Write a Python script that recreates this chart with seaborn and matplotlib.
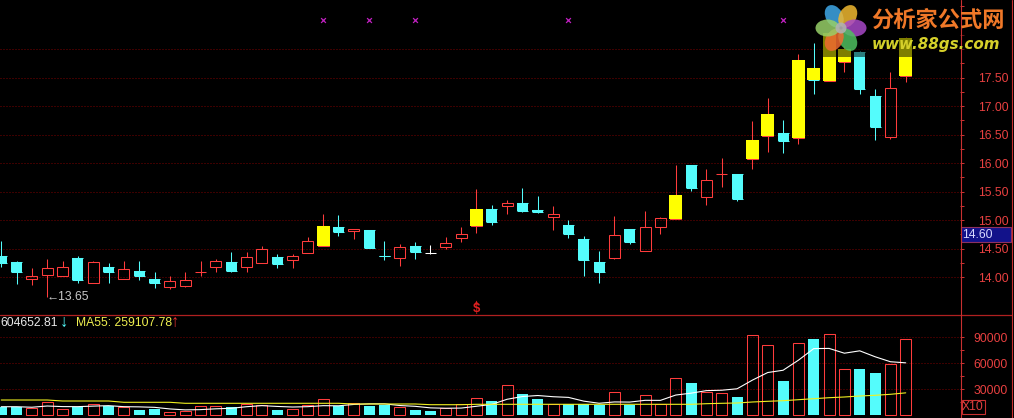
import numpy as np
import pandas as pd
import matplotlib
matplotlib.use("Agg")
import matplotlib.pyplot as plt
import seaborn as sns
from matplotlib.patches import Ellipse, Rectangle, Circle

# ---------------- data ----------------
opens = [14.36, 14.26, 13.96, 14.03, 14.02, 14.33, 13.90, 14.17, 13.97, 14.11,
         13.97, 13.83, 13.85, 14.08, 14.18, 14.26, 14.18, 14.25, 14.35, 14.30,
         14.42, 14.54, 14.87, 14.80, 14.82, 14.37, 14.33, 14.54, 14.42, 14.52,
         14.69, 14.90, 15.19, 15.25, 15.30, 15.17, 15.05, 14.91, 14.67, 14.26,
         14.34, 14.84, 14.46, 14.87, 15.02, 15.96, 15.41, 15.80, 15.80, 16.07,
         16.48, 16.53, 16.44, 17.66, 17.44, 17.78, 17.95, 17.17, 16.46, 17.52]
highs = [14.63, 14.28, 14.15, 14.31, 14.28, 14.37, 14.28, 14.25, 14.28, 14.28,
         14.09, 14.02, 14.09, 14.28, 14.32, 14.44, 14.44, 14.54, 14.40, 14.40,
         14.70, 15.10, 15.09, 14.84, 14.82, 14.63, 14.58, 14.61, 14.56, 14.70,
         14.87, 15.55, 15.26, 15.35, 15.56, 15.42, 15.25, 15.00, 14.72, 14.46,
         15.07, 14.84, 15.16, 15.06, 15.96, 15.97, 15.90, 16.08, 15.80, 16.73,
         17.14, 16.75, 17.92, 18.11, 18.30, 18.05, 17.97, 17.29, 17.60, 18.21]
lows = [14.18, 13.88, 13.86, 13.65, 14.02, 13.89, 13.89, 13.90, 13.97, 13.95,
        13.81, 13.79, 13.83, 14.02, 14.08, 14.09, 14.09, 14.24, 14.15, 14.15,
        14.42, 14.54, 14.72, 14.67, 14.51, 14.30, 14.20, 14.32, 14.40, 14.49,
        14.62, 14.78, 14.92, 15.10, 15.14, 15.12, 14.82, 14.69, 14.02, 13.90,
        14.32, 14.58, 14.46, 14.75, 15.02, 15.51, 15.27, 15.58, 15.34, 15.90,
        16.20, 16.17, 16.34, 17.21, 17.44, 17.60, 17.21, 16.41, 16.42, 17.42]
closes = [14.25, 14.08, 14.01, 14.15, 14.17, 13.94, 14.26, 14.09, 14.14, 14.02,
          13.90, 13.93, 13.95, 14.09, 14.28, 14.11, 14.35, 14.50, 14.22, 14.37,
          14.63, 14.89, 14.79, 14.84, 14.51, 14.36, 14.53, 14.44, 14.42, 14.59,
          14.75, 15.19, 14.97, 15.30, 15.16, 15.14, 15.10, 14.75, 14.29, 14.08,
          14.74, 14.61, 14.87, 15.03, 15.44, 15.57, 15.71, 15.81, 15.36, 16.40,
          16.86, 16.39, 17.80, 17.45, 18.28, 18.00, 17.30, 16.63, 17.32, 18.20]
volumes = [9900, 9900, 8100, 15000, 7300, 9600, 13000, 10700, 9200, 6100,
           6900, 3800, 5300, 10700, 10700, 9900, 13000, 11500, 6100, 7300,
           11900, 18800, 10700, 13900, 10700, 11900, 9200, 6100, 5000, 8400,
           13000, 19600, 16900, 34600, 24200, 18800, 12700, 13000, 13000, 11900,
           26500, 11900, 23100, 12700, 42700, 37300, 26500, 25400, 21100, 92700,
           81100, 39600, 83400, 88000, 93800, 53400, 53400, 49200, 59200, 87500]
ma55_volume = [17650, 17650, 17650, 17650, 16500, 16500, 16500, 16500, 15000, 15000,
               15000, 15000, 13850, 13850, 13850, 13850, 13850, 13850, 13850, 13850,
               13850, 13850, 13850, 13040, 13040, 13040, 13040, 13040, 12230, 12230,
               12230, 12690, 12690, 12690, 12690, 12690, 12690, 12690, 12690, 12690,
               12690, 12690, 12690, 12690, 12690, 12690, 13390, 13850, 14190, 15350,
               16150, 16850, 18000, 19150, 20310, 21120, 22270, 23080, 24230, 25900]
yellow_days = [21, 31, 44, 49, 50, 52, 53, 54, 55, 59]
signal_x_days = [21, 24, 27, 37, 51]
signal_x_level = 18.51
sell_day = 31
lowest_label = "\u219013.65"
lowest_day = 3
lowest_price = 13.65
price_major = [14.0, 14.5, 15.0, 15.5, 16.0, 16.5, 17.0, 17.5, 18.0]
# the 18.00 label sits under the watermark in the reference, so it is left blank
price_major_labels = ["14.00", "14.50", "15.00", "15.50", "16.00", "16.50", "17.00", "17.50", ""]
price_minor = [14.25, 14.75, 15.25, 15.75, 16.25, 16.75, 17.25, 17.75, 18.25, 18.75]
vol_major = [30000, 60000, 90000]
vol_major_labels = ["30000", "60000", "90000"]
vol_minor = [15000, 45000, 75000]
header_ma5 = "604652.81"
header_ma55 = "MA55: 259107.78"
current_price_label = "14.60"
vol_unit_label = "X10"
brand_cn = "分析家公式网"
brand_url = "www.88gs.com"

# ---------------- style ----------------
RED = "#FF3C3C"
CYAN = "#54FCFC"
YELLOW = "#FFFF00"
AXRED = "#C83030"
GRIDRED = "#7A0000"
LW = 0.75

sns.set_theme(style="dark", rc={"axes.facecolor": "black", "figure.facecolor": "black",
                                "savefig.facecolor": "black", "axes.edgecolor": "black"})
plt.rcParams["font.family"] = ["Liberation Sans", "DejaVu Sans", "Noto Sans CJK SC"]

df = pd.DataFrame({"day": np.arange(len(opens)), "open": opens, "high": highs,
                   "low": lows, "close": closes, "volume": volumes, "ma55": ma55_volume})
df["ma5"] = df["volume"].rolling(5, min_periods=1).mean()

W, H = 1014, 418
fig = plt.figure(figsize=(W / 100, H / 100), dpi=100)
ax_p = fig.add_axes([0, 104 / H, 960 / W, 314 / H])
ax_v = fig.add_axes([0, 0, 960 / W, 104 / H])

x = df["day"].to_numpy()
o = df["open"].to_numpy(); h = df["high"].to_numpy()
l = df["low"].to_numpy(); c = df["close"].to_numpy()
lo = np.minimum(o, c); hi = np.maximum(o, c)
up = c > o
down = c < o
flat = ~(up | down)
yel = df["day"].isin(yellow_days).to_numpy()
BW = 0.72

# up candles (hollow red)
ax_p.vlines(x[up], hi[up], h[up], color=RED, lw=LW, zorder=2)
ax_p.vlines(x[up], l[up], lo[up], color=RED, lw=LW, zorder=2)
ax_p.bar(x[up], (hi - lo)[up], bottom=lo[up], width=BW, facecolor="none",
         edgecolor=RED, linewidth=LW, zorder=2)
# down candles (solid cyan)
ax_p.vlines(x[down], l[down], h[down], color=CYAN, lw=LW, zorder=2)
ax_p.bar(x[down], (hi - lo)[down], bottom=lo[down], width=BW, color=CYAN,
         linewidth=0, zorder=2)
ax_p.hlines(np.concatenate([o[down], c[down]]), np.concatenate([x[down], x[down]]) - BW / 2,
            np.concatenate([x[down], x[down]]) + BW / 2, color=CYAN, lw=LW, zorder=2)
# flat candles (white cross)
ax_p.vlines(x[flat], l[flat], h[flat], color="white", lw=LW, zorder=2)
ax_p.hlines(o[flat], x[flat] - BW / 2, x[flat] + BW / 2, color="white", lw=LW, zorder=2)
# yellow signal bodies
ax_p.bar(x[yel], (hi - lo)[yel], bottom=lo[yel], width=0.85, color=YELLOW,
         linewidth=0, zorder=3)

# markers
ax_p.scatter(signal_x_days, [signal_x_level] * len(signal_x_days), marker="x",
             s=12, color="#C020C0", linewidths=0.9, zorder=4)
ax_p.text(sell_day, 13.44, "$", color="#E02020", fontsize=9.5, fontweight="bold",
          ha="center", va="center", zorder=4)
ax_p.scatter([sell_day], [13.555], marker="^", s=8, color="#E02020", linewidths=0, zorder=4)
ax_p.text(lowest_day - 0.05, lowest_price, lowest_label, color="#C8C8C8", fontsize=8.7,
          ha="left", va="center", zorder=4)

ax_p.set_xlim(-0.08, 62.54)
ax_p.set_ylim(13.351, 18.86)
ax_p.set_xticks([])
ax_p.yaxis.tick_right()
ax_p.set_yticks(price_major)
ax_p.set_yticklabels(price_major_labels)
ax_p.set_yticks(price_minor, minor=True)
ax_p.tick_params(axis="y", which="both", right=True, left=False, length=3, width=0.72,
                 color=AXRED, labelcolor="#E84040", labelsize=8.8, pad=10)
ax_p.grid(axis="y", which="major", color=GRIDRED, linestyle=(0, (1, 2)), linewidth=0.72)
ax_p.grid(axis="x", visible=False)
for s in ax_p.spines.values():
    s.set_visible(False)

# volume pane
vu = up
ax_v.bar(x[vu], df["volume"].to_numpy()[vu], width=BW, facecolor="none", edgecolor=RED,
         linewidth=LW, zorder=2)
ax_v.bar(x[~vu], df["volume"].to_numpy()[~vu], width=BW, color=CYAN, linewidth=0, zorder=2)
sns.lineplot(data=df, x="day", y="ma5", ax=ax_v, color="white", lw=0.8, zorder=4)
sns.lineplot(data=df, x="day", y="ma55", ax=ax_v, color="#F0F020", lw=0.8, zorder=4)
ax_v.set_xlabel(""); ax_v.set_ylabel("")
ax_v.set_xlim(-0.08, 62.54)
ax_v.set_ylim(-3115, 116880)
ax_v.set_xticks([])
ax_v.yaxis.tick_right()
ax_v.set_yticks(vol_major)
ax_v.set_yticklabels(vol_major_labels)
ax_v.set_yticks(vol_minor, minor=True)
ax_v.tick_params(axis="y", which="both", right=True, left=False, length=3, width=0.72,
                 color=AXRED, labelcolor="#E84040", labelsize=8.8, pad=6.7)
ax_v.grid(axis="y", which="major", color=GRIDRED, linestyle=(0, (1, 2)), linewidth=0.72)
ax_v.grid(axis="x", visible=False)
for s in ax_v.spines.values():
    s.set_visible(False)

# overlay in pixel coordinates
ov = fig.add_axes([0, 0, 1, 1], zorder=10)
ov.set_xlim(0, W); ov.set_ylim(H, 0); ov.axis("off"); ov.patch.set_alpha(0)
ov.plot([0, 1012], [314.5, 314.5], color="#B02020", lw=0.9)
ov.plot([960.5, 960.5], [0, H], color=AXRED, lw=0.8)
ov.plot([1012, 1012], [0, H], color=AXRED, lw=0.8)

# header texts of the volume pane
ov.text(0, 322.5, header_ma5, color="#E8E8E8", fontsize=8.7, ha="left", va="center")
ov.text(63.5, 322.5, "\u2193", color=CYAN, fontsize=12, ha="center", va="center")
ov.text(76, 322.5, header_ma55, color="#F0F050", fontsize=8.7, ha="left", va="center")
ov.text(174.5, 322.0, "\u2191", color="#E03030", fontsize=12, ha="center", va="center")

# current price box
ov.add_patch(Rectangle((961, 226.5), 50, 15.5, facecolor="#12128A", edgecolor="#8C3060", lw=0.8))
ov.text(962.5, 234.5, current_price_label, color="#D8D8FF", fontsize=8.8, ha="left", va="center")
# X10 box
ov.add_patch(Rectangle((961.5, 399.5), 23.5, 14, facecolor="none", edgecolor=AXRED, lw=0.8))
ov.text(973, 406.5, vol_unit_label, color="#E04040", fontsize=8.7, ha="center", va="center")

# watermark
ov.add_patch(Rectangle((815, 28), 197, 29, facecolor="black", alpha=0.5, lw=0))
cx, cy = 841, 28
petals = [(-120, "#3FA8E8"), (-60, "#F0B830"), (0, "#A848C8"),
          (60, "#50C060"), (120, "#F06A30"), (180, "#98D068")]
for ang, col in petals:
    t = np.deg2rad(ang)
    ov.add_patch(Ellipse((cx + 13.5 * np.cos(t), cy + 13.5 * np.sin(t)), 24, 17, angle=ang,
                         facecolor=col, alpha=0.85, lw=0))
ov.add_patch(Circle((cx, cy), 5.5, facecolor="#B0B0B0", alpha=0.9, lw=0))
ov.text(871, 20, brand_cn, color="#F07828", fontsize=16, fontweight="bold",
        family=["Noto Sans CJK SC"], ha="left", va="center")
ov.text(872, 44, brand_url, color="#D6D02A", fontsize=10.9, fontweight="bold",
        fontstyle="italic", family=["DejaVu Sans"], ha="left", va="center")

fig.savefig("out.png", dpi=100, facecolor="black")
